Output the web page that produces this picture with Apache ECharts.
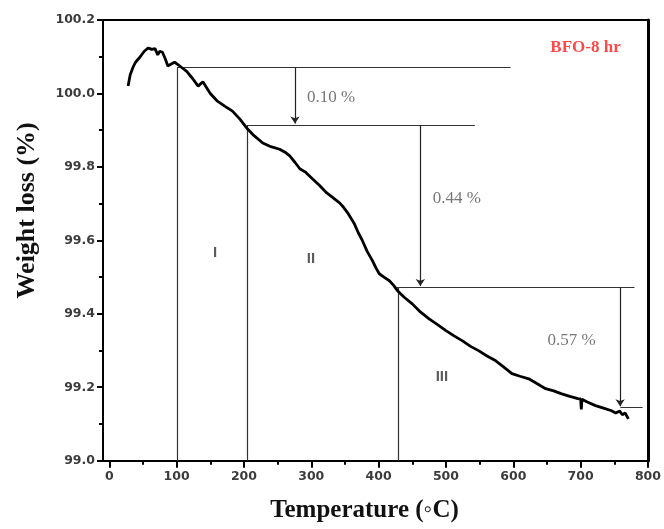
<!DOCTYPE html>
<html>
<head>
<meta charset="utf-8">
<script src="https://cdn.jsdelivr.net/npm/echarts@6/dist/echarts.min.js"></script>
<style>html,body{margin:0;padding:0;background:#fff;}#c{width:664px;height:529px;}</style>
</head>
<body>
<div id="c"></div>
<script>
// ---- data ----
const temps = [28,30,31,35,39,46,52,58,63,68,72,75,79,83,87,92,97,101,108,115,124,132,139,150,160,172,183,194,204,215,228,240,253,261,268,276,283,292,302,312,323,333,342,348,354,359,364,370,376,383,391,396,401,408,416,422,428,438,450,462,475,488,500,512,524,536,549,561,574,586,598,610,623,635,648,660,672,684,696,700,701,702,710,722,734,746,752,758,762,766,771];
const weights = [100.02,100.04,100.05,100.07,100.085,100.10,100.115,100.124,100.12,100.122,100.105,100.115,100.112,100.095,100.075,100.08,100.085,100.08,100.07,100.06,100.04,100.02,100.032,100.0,99.98,99.965,99.952,99.93,99.906,99.885,99.865,99.855,99.848,99.84,99.83,99.812,99.795,99.785,99.767,99.75,99.729,99.715,99.702,99.69,99.675,99.66,99.645,99.62,99.599,99.57,99.544,99.525,99.509,99.5,99.49,99.478,99.463,99.445,99.427,99.405,99.386,99.37,99.354,99.34,99.327,99.312,99.299,99.285,99.272,99.255,99.237,99.23,99.223,99.21,99.196,99.19,99.182,99.175,99.169,99.168,99.14,99.167,99.16,99.15,99.143,99.136,99.13,99.135,99.125,99.13,99.114];

const xTicks = [0,100,200,300,400,500,600,700,800];
const xMinorTicks = [50,150,250,350,450,550,650,750];

// step annotation lines: [x1, y1, x2, y2]
const stepLines = [
  [101.6, 100.072, 101.6, 99.0],
  [102, 100.072, 596, 100.072],
  [204.6, 99.914, 204.6, 99.0],
  [204.6, 99.914, 543, 99.914],
  [429, 99.473, 429, 99.0],
  [427, 99.473, 780, 99.473],
  [759, 99.146, 792, 99.146]
];
// arrows: [x, yFrom, yTo]
const arrows = [
  [275.8, 100.072, 99.918],
  [462, 99.914, 99.476],
  [758.7, 99.473, 99.148]
];
// loss labels: [x, y, text]
const lossLabels = [
  [293.6, 99.988, '0.10 %'],
  [480.4, 99.713, '0.44 %'],
  [651, 99.326, '0.57 %']
];
// stage labels
const stageLabels = [
  [157, 99.566, 'I'],
  [299.5, 99.549, 'II'],
  [494, 99.228, 'III']
];
const sampleLabel = [[655, 100.124, 'BFO-8 hr']];

const xMin = -9.3, xMax = 800, yMin = 99.0, yMax = 100.2;

const chart = echarts.init(document.getElementById('c'));
const tickLabelStyle = {color:'#3c3c3c', fontFamily:'DejaVu Sans, sans-serif', fontWeight:'bold', fontSize:12.5};
const serif = 'Liberation Serif, Times New Roman, serif';

chart.setOption({
  animation:false,
  backgroundColor:'#fff',
  grid:{left:103, right:15.5, top:20, bottom:68.3, containLabel:false},
  xAxis:[
    {type:'value', min:xMin, max:xMax, position:'bottom',
     name:'Temperature (\u25E6C)', nameLocation:'middle', nameGap:37,
     nameTextStyle:{fontFamily:serif, fontWeight:'bold', fontSize:25, color:'#111', padding:[0,22,0,0]},
     axisLine:{show:true, onZero:false, lineStyle:{color:'#000', width:2}},
     axisTick:{show:true, customValues:xTicks, length:7, lineStyle:{color:'#000', width:2}},
     axisLabel:{show:true, customValues:xTicks, margin:10, ...tickLabelStyle},
     splitLine:{show:false}},
    {type:'value', min:xMin, max:xMax, position:'bottom',
     axisLine:{show:false},
     axisTick:{show:true, customValues:xMinorTicks, length:4, lineStyle:{color:'#000', width:2}},
     axisLabel:{show:false}, splitLine:{show:false}},
    {type:'value', min:xMin, max:xMax, position:'top',
     axisLine:{show:true, onZero:false, lineStyle:{color:'#000', width:2}},
     axisTick:{show:false}, axisLabel:{show:false}, splitLine:{show:false}}
  ],
  yAxis:[
    {type:'value', min:yMin, max:yMax, interval:0.2, position:'left',
     name:'Weight loss (%)', nameLocation:'middle', nameGap:63,
     nameTextStyle:{fontFamily:serif, fontWeight:'bold', fontSize:26, color:'#111', padding:[0,0,0,60]},
     axisLine:{show:true, onZero:false, lineStyle:{color:'#000', width:2}},
     axisTick:{show:true, length:6, lineStyle:{color:'#000', width:2}},
     minorTick:{show:true, splitNumber:2, length:4, lineStyle:{color:'#000', width:2}},
     axisLabel:{formatter:v=>v.toFixed(1), margin:8, ...tickLabelStyle},
     splitLine:{show:false}, minorSplitLine:{show:false}},
    {type:'value', min:yMin, max:yMax, position:'right',
     axisLine:{show:true, onZero:false, lineStyle:{color:'#000', width:3}},
     axisTick:{show:false}, axisLabel:{show:false}, splitLine:{show:false}}
  ],
  series:[
    {type:'lines', coordinateSystem:'cartesian2d', xAxisIndex:0, yAxisIndex:0, silent:true,
     lineStyle:{color:'#333', width:1.2, opacity:1},
     data: stepLines.map(l=>({coords:[[l[0],l[1]],[l[2],l[3]]]}))},
    {type:'lines', coordinateSystem:'cartesian2d', xAxisIndex:0, yAxisIndex:0, silent:true,
     symbol:['none','arrow'], symbolSize:7,
     lineStyle:{color:'#222', width:1.2, opacity:1},
     data: arrows.map(a=>({coords:[[a[0],a[1]],[a[0],a[2]]]}))},
    {type:'line', xAxisIndex:0, yAxisIndex:0, showSymbol:false, symbol:'none', silent:true,
     lineStyle:{color:'#000', width:2.8},
     data: temps.map((t,i)=>[t, weights[i]])},
    {type:'scatter', xAxisIndex:0, yAxisIndex:0, symbolSize:0, silent:true,
     label:{show:true, position:'right', distance:0, formatter:p=>p.data[2],
            fontFamily:serif, fontSize:17, color:'#555'},
     data: lossLabels},
    {type:'scatter', xAxisIndex:0, yAxisIndex:0, symbolSize:0, silent:true,
     label:{show:true, position:'inside', formatter:p=>p.data[2],
            fontFamily:'Liberation Sans, Arial, sans-serif', fontWeight:'bold', fontSize:15, color:'#333'},
     data: stageLabels},
    {type:'scatter', xAxisIndex:0, yAxisIndex:0, symbolSize:0, silent:true,
     label:{show:true, position:'right', distance:0, formatter:p=>p.data[2],
            fontFamily:serif, fontWeight:'bold', fontSize:17, color:'#ff1a1a'},
     data: sampleLabel}
  ]
});
</script>
</body>
</html>
